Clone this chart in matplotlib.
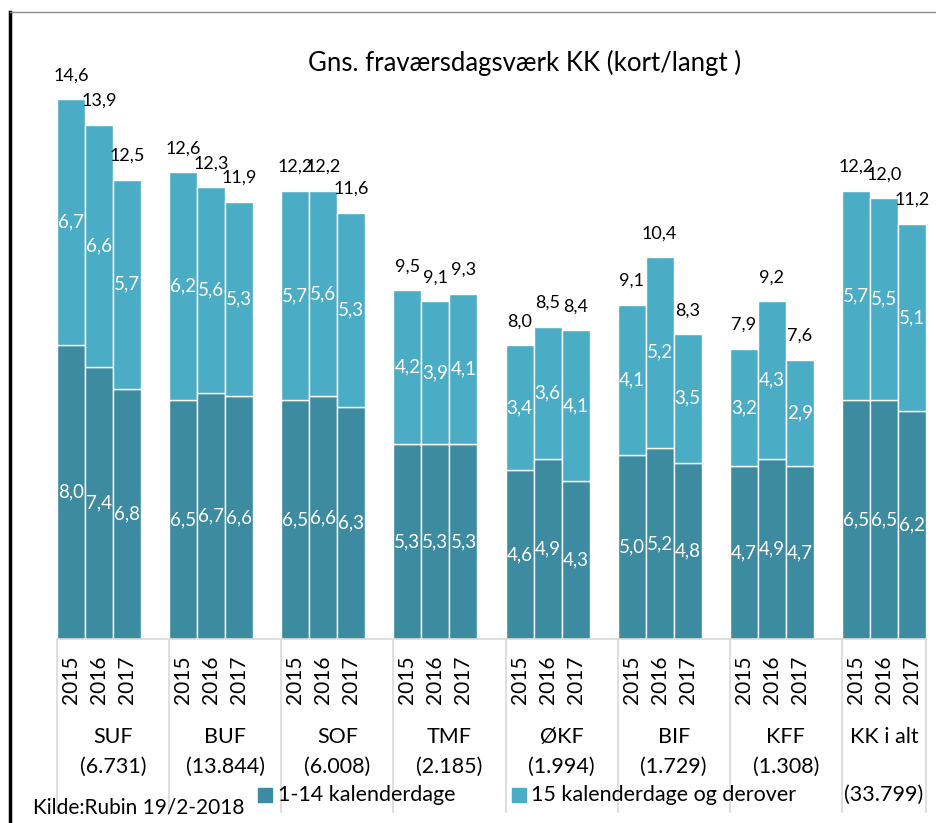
import matplotlib.pyplot as plt
import matplotlib.transforms as mtrans
from matplotlib.patches import Rectangle
from matplotlib.lines import Line2D

plt.rcParams['font.family'] = ['Lato', 'DejaVu Sans']

groups = ['SUF', 'BUF', 'SOF', 'TMF', 'ØKF', 'BIF', 'KFF', 'KK i alt']
counts = ['(6.731)', '(13.844)', '(6.008)', '(2.185)', '(1.994)', '(1.729)', '(1.308)', '(33.799)']
years = ['2015', '2016', '2017']

short = [[8.0, 7.4, 6.8], [6.5, 6.7, 6.6], [6.5, 6.6, 6.3], [5.3, 5.3, 5.3],
         [4.6, 4.9, 4.3], [5.0, 5.2, 4.8], [4.7, 4.9, 4.7], [6.5, 6.5, 6.2]]
long_ = [[6.7, 6.6, 5.7], [6.2, 5.6, 5.3], [5.7, 5.6, 5.3], [4.2, 3.9, 4.1],
         [3.4, 3.6, 4.1], [4.1, 5.2, 3.5], [3.2, 4.3, 2.9], [5.7, 5.5, 5.1]]
totals = [[14.6, 13.9, 12.5], [12.6, 12.3, 11.9], [12.2, 12.2, 11.6], [9.5, 9.1, 9.3],
          [8.0, 8.5, 8.4], [9.1, 10.4, 8.3], [7.9, 9.2, 7.6], [12.2, 12.0, 11.2]]

dark = '#3c8ba1'
light = '#4bacc6'
W, H = 936, 823


def fmt(v):
    return ('%.1f' % v).replace('.', ',')


fig = plt.figure(figsize=(W / 100, H / 100), dpi=100)
ax = fig.add_axes([57 / W, 184 / H, 869 / W, 599 / H])
ax.set_xlim(-0.5, 30.5)
ax.set_ylim(0, 599 / 36.75)
ax.axis('off')

for g in range(len(groups)):
    for j in range(3):
        x = 4 * g + j
        s = short[g][j]
        l = long_[g][j]
        ax.bar(x, s, width=1, color=dark, edgecolor='white', linewidth=1)
        ax.bar(x, l, bottom=s, width=1, color=light, edgecolor='white', linewidth=1)
        ax.text(x, s / 2, fmt(s), color='white', ha='center', va='center', fontsize=13.5)
        ax.text(x, s + l / 2, fmt(l), color='white', ha='center', va='center', fontsize=13.5)
        ax.annotate(fmt(totals[g][j]), (x, s + l), xytext=(0, 17), textcoords='offset points',
                    ha='center', va='center', fontsize=13, color='black')

# category axis below the bars
ax.axhline(0, color='#d9d9d9', lw=1.2, clip_on=False)
tr = mtrans.blended_transform_factory(ax.transData, fig.transFigure)
seps = [4 * g - 0.5 for g in range(len(groups))] + [30.5]
for sx in seps:
    fig.add_artist(Line2D([sx, sx], [183 / H, 11 / H], transform=tr, color='#d9d9d9', lw=1.2))

for g in range(len(groups)):
    for j in range(3):
        ax.text(4 * g + j, (H - 680) / H, years[j], transform=tr, rotation=90,
                ha='center', va='center', fontsize=15)
    cx = (seps[g] + seps[g + 1]) / 2
    ax.text(cx, (H - 737) / H, groups[g], transform=tr, ha='center', va='center', fontsize=15.5)
    cy = 795 if g == len(groups) - 1 else 767
    ax.text(cx, (H - cy) / H, counts[g], transform=tr, ha='center', va='center', fontsize=15.5)

fig.text(525 / W, (H - 63) / H, 'Gns. fraværsdagsværk KK (kort/langt )', ha='center', va='center', fontsize=18.5)

# legend
fig.add_artist(Rectangle((258 / W, (H - 802) / H), 14 / W, 14 / H, transform=fig.transFigure, color=dark))
fig.text(278 / W, (H - 795) / H, '1-14 kalenderdage', ha='left', va='center', fontsize=15.5)
fig.add_artist(Rectangle((512 / W, (H - 802) / H), 14 / W, 14 / H, transform=fig.transFigure, color=light))
fig.text(531 / W, (H - 795) / H, '15 kalenderdage og derover', ha='left', va='center', fontsize=15.5)

fig.text(33 / W, (H - 808) / H, 'Kilde:Rubin 19/2-2018', ha='left', va='center', fontsize=15)

# frame
fig.add_artist(Line2D([10 / W, 10 / W], [(H - 12) / H, 0], transform=fig.transFigure, color='black', lw=2.5))
fig.add_artist(Line2D([10 / W, 1], [(H - 12) / H, (H - 12) / H], transform=fig.transFigure, color='#8c8c8c', lw=1))

fig.savefig('out.png', dpi=100)
